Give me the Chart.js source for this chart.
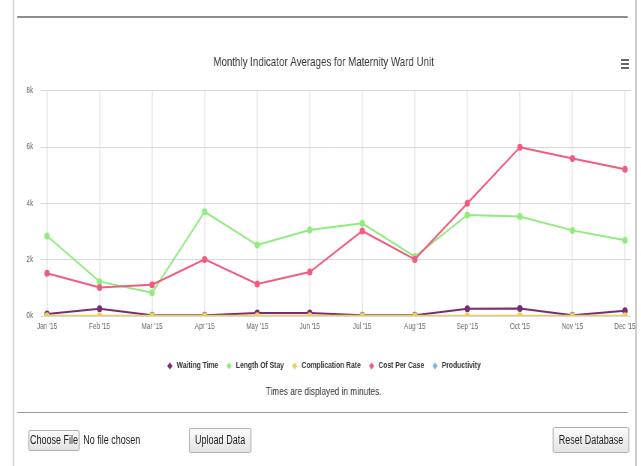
<!DOCTYPE html>
<html>
<head>
<meta charset="utf-8">
<script src="https://cdn.jsdelivr.net/npm/chart.js@4/dist/chart.umd.min.js"></script>
<style>
  html, body { margin: 0; padding: 0; background: #fff; overflow: hidden; }
  body { width: 641px; height: 466px; }
  #page {
    position: absolute; left: 0; top: 0;
    width: 855px; height: 466px;
    transform: scaleX(0.75); transform-origin: 0 0;
    font-family: "Liberation Sans", Arial, sans-serif;
  }
  .vline { position: absolute; top: 0; width: 2px; height: 466px; background: #d6d6d6; }
  .hr { position: absolute; left: 23px; width: 814px; height: 2px; background: #8c8c8c; }
  #wrap { position: absolute; left: 22px; top: 30px; width: 827px; height: 375px; }
  .menu { position: absolute; left: 828px; width: 11px; height: 2px; background: #666; }
  .btn {
    position: absolute; box-sizing: border-box;
    border: 1px solid #a6a6a6; border-radius: 2px;
    background: linear-gradient(#fbfbfb, #e3e3e3);
    color: #222; font-size: 12px; text-align: center;
  }
  .txt { position: absolute; font-size: 12px; color: #222; }
</style>
</head>
<body>
<div id="page">
  <div class="vline" style="left:17px"></div>
  <div class="vline" style="left:847px; background:#bdbdbd"></div>
  <div class="hr" style="top:16px"></div>

  <div id="wrap"><canvas id="chart"></canvas></div>

  <div class="menu" style="top:59px"></div>
  <div class="menu" style="top:63px"></div>
  <div class="menu" style="top:67px"></div>

  <div class="hr" style="top:412px; height:1px; background:#9a9a9a"></div>

  <div class="btn" style="left:38px; top:430px; width:68px; height:21px; line-height:19px;">Choose File</div>
  <div class="txt" style="left:111px; top:433px;">No file chosen</div>
  <div class="btn" style="left:252px; top:428px; width:83px; height:25px; line-height:23px;">Upload Data</div>
  <div class="btn" style="left:737px; top:427px; width:102px; height:26px; line-height:24px;">Reset Database</div>
</div>

<script>
// Months shown on the x axis
const months = ["Jan '15", "Feb '15", "Mar '15", "Apr '15", "May '15", "Jun '15",
                "Jul '15", "Aug '15", "Sep '15", "Oct '15", "Nov '15", "Dec '15"];

// Monthly averages per indicator
const waitingTime      = [70, 260, 25, 25, 105, 105, 25, 25, 260, 265, 25, 190];
const lengthOfStay     = [2840, 1220, 830, 3700, 2520, 3050, 3290, 2110, 3590, 3530, 3040, 2690];
const complicationRate = [10, 10, 5, 5, 10, 10, 5, 5, 10, 10, 5, 10];
const costPerCase      = [1520, 1010, 1110, 2010, 1140, 1560, 3020, 2010, 4000, 5990, 5590, 5210];
const productivity     = [null, null, null, null, null, null, null, null, null, null, null, null];

// Y axis ticks (thousands)
const yTicks = [0, 2000, 4000, 6000, 8000];

const FONT = '"Liberation Sans", Arial, sans-serif';
const toPoints = vals => vals.map((v, i) => ({ x: i, y: v }));

function series(label, values, color, order) {
  return {
    label,
    data: toPoints(values),
    borderColor: color,
    backgroundColor: color,
    pointBackgroundColor: color,
    pointBorderWidth: 0,
    pointRadius: 3.5,
    borderWidth: 2,
    tension: 0,
    order
  };
}

new Chart(document.getElementById('chart'), {
  type: 'line',
  data: {
    datasets: [
      series('Waiting Time', waitingTime, '#7b2a76', 4),
      series('Length Of Stay', lengthOfStay, '#90ed7d', 3),
      series('Complication Rate', complicationRate, '#e4d354', 2),
      series('Cost Per Case', costPerCase, '#f25b80', 1),
      series('Productivity', productivity, '#7cb5ec', 0)
    ]
  },
  options: {
    responsive: true,
    maintainAspectRatio: false,
    animation: false,
    devicePixelRatio: 1,
    layout: { padding: { left: 0, right: 8, top: 0, bottom: 0 } },
    scales: {
      x: {
        type: 'linear',
        min: -0.12,
        max: 11.11,
        border: { display: false },
        grid: { color: '#ececec', lineWidth: 2, drawTicks: false },
        ticks: {
          stepSize: 1,
          includeBounds: false,
          autoSkip: false,
          maxRotation: 0,
          padding: 6,
          color: '#666',
          font: { family: FONT, size: 8.5 },
          callback: v => (Number.isInteger(v) ? months[v] : '')
        },
        afterFit(s) { s.height = 35.5; s.paddingLeft = 0; s.paddingRight = 0; }
      },
      y: {
        min: 0,
        max: 8000,
        border: { display: false },
        grid: { color: '#d8d8d8', lineWidth: 1, drawTicks: false },
        afterBuildTicks(s) { s.ticks = yTicks.map(v => ({ value: v })); },
        ticks: {
          padding: 10,
          color: '#666',
          font: { family: FONT, size: 8.5 },
          callback: v => (v / 1000) + 'k'
        },
        afterFit(s) { s.width = 32.3; s.paddingTop = 0; s.paddingBottom = 0; }
      }
    },
    plugins: {
      tooltip: { enabled: false },
      title: {
        display: true,
        text: 'Monthly Indicator Averages for Maternity Ward Unit',
        color: '#333',
        font: { family: FONT, size: 13, weight: 'normal' },
        padding: { top: 24.3, bottom: 20.8 }
      },
      subtitle: {
        display: true,
        position: 'bottom',
        text: 'Times are displayed in minutes.',
        color: '#333',
        font: { family: FONT, size: 11, weight: 'normal' },
        padding: { top: 4.9, bottom: 6.4 }
      },
      legend: {
        position: 'bottom',
        labels: {
          usePointStyle: true,
          pointStyle: 'rectRot',
          boxWidth: 9,
          boxHeight: 5,
          padding: 10,
          color: '#333',
          font: { family: FONT, size: 9, weight: 'bold' },
          sort: (a, b) => a.datasetIndex - b.datasetIndex
        }
      }
    }
  }
});
</script>
</body>
</html>
